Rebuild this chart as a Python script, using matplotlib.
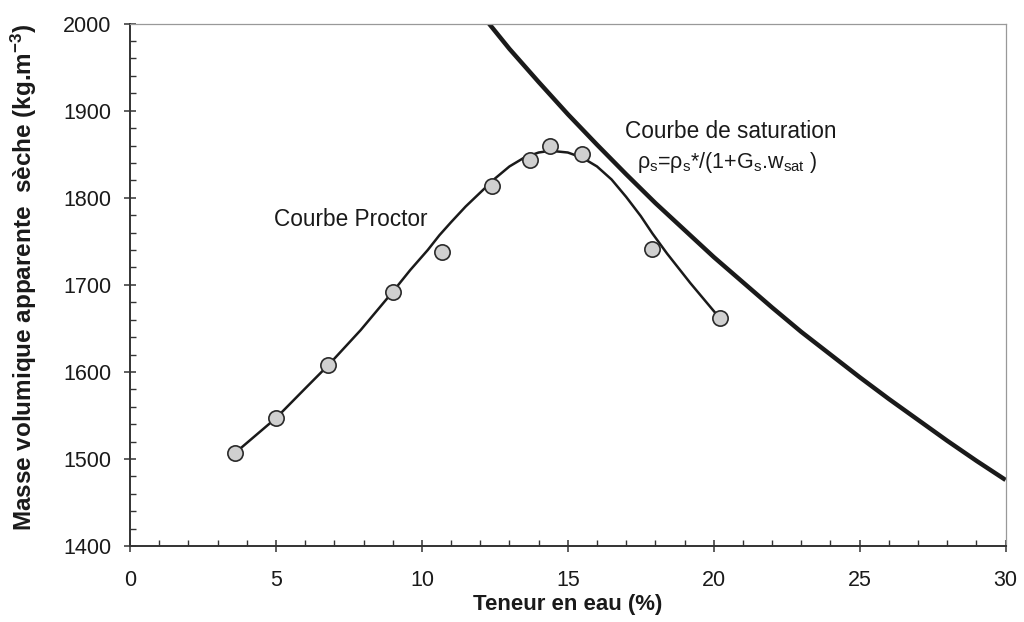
import numpy as np
import matplotlib.pyplot as plt
from matplotlib.ticker import MultipleLocator

plt.rcParams['font.family'] = ['Liberation Sans', 'DejaVu Sans']
plt.rcParams['mathtext.fontset'] = 'custom'
plt.rcParams['mathtext.rm'] = 'Liberation Sans'
plt.rcParams['mathtext.it'] = 'Liberation Sans'

# essais Proctor (teneur en eau %, masse volumique seche kg/m3)
w_essai = [3.6, 5.0, 6.8, 9.0, 10.7, 12.4, 13.7, 14.4, 15.5, 17.9, 20.2]
rho_essai = [1507, 1547, 1608, 1692, 1738, 1814, 1843, 1859, 1850, 1741, 1662]

# courbe Proctor lissee
w_proctor = [3.6, 5.0, 6.0, 6.8, 7.9, 9.0, 9.6, 10.2, 10.6, 11.0, 11.5, 12.0, 12.5, 13.0,
             13.5, 14.0, 14.4, 15.0, 15.5, 16.0, 16.5, 17.0, 17.5, 17.9, 18.4,
             19.2, 20.2]
rho_proctor = [1507, 1547, 1581, 1608, 1648, 1692, 1717, 1740, 1757, 1772, 1790, 1806, 1822,
               1836, 1846, 1852, 1854, 1852, 1846, 1836, 1821, 1801, 1779, 1759,
               1736, 1702, 1662]

# courbe de saturation
w_sat = [12.3, 13, 14, 15, 16, 17, 18, 19, 20, 21, 22, 23, 24, 25, 26, 27, 28, 29, 30]
rho_sat = [2000, 1971, 1933, 1896, 1861, 1827, 1794, 1763, 1732, 1703, 1674,
           1646, 1620, 1594, 1569, 1545, 1521, 1498, 1476]

fig = plt.figure(figsize=(10.24, 6.22), dpi=100)
ax = fig.add_axes([0.127, 0.122, 0.855, 0.840])

ax.plot(w_sat, rho_sat, color='#1a1a1a', lw=3.2, solid_capstyle='butt', solid_joinstyle='round')
ax.plot(w_proctor, rho_proctor, color='#1a1a1a', lw=1.8, solid_joinstyle='round')
ax.plot(w_essai, rho_essai, 'o', ms=11, mfc='#d0d0d0', mec='#2a2a2a', mew=1.2, zorder=3)

ax.set_xlim(0, 30)
ax.set_ylim(1400, 2000)
ax.xaxis.set_major_locator(MultipleLocator(5))
ax.xaxis.set_minor_locator(MultipleLocator(1))
ax.yaxis.set_major_locator(MultipleLocator(100))
ax.yaxis.set_minor_locator(MultipleLocator(20))

ax.tick_params(which='major', direction='inout', length=9, width=1.1, color='#333333',
               labelsize=15.5, labelcolor='#1a1a1a')
ax.tick_params(axis='x', which='major', pad=13)
ax.tick_params(axis='y', which='major', pad=9)
ax.tick_params(which='minor', direction='in', length=4, width=1.0, color='#333333')

for s in ['left', 'bottom']:
    ax.spines[s].set_color('#333333')
    ax.spines[s].set_linewidth(1.4)
for s in ['top', 'right']:
    ax.spines[s].set_color('#999999')
    ax.spines[s].set_linewidth(0.9)

ax.set_xlabel('Teneur en eau (%)', fontsize=16, fontweight='bold', labelpad=2, color='#1a1a1a')
ax.set_ylabel(r'Masse volumique apparente  sèche (kg.m$^{\mathregular{-3}}$)',
              fontsize=17.5, fontweight='bold', color='#1a1a1a')
ax.yaxis.set_label_coords(-0.104, 0.515)

ax.text(7.57, 1775, 'Courbe Proctor', fontsize=16.3, color='#1a1a1a', ha='center', va='center')
ax.text(20.58, 1876, 'Courbe de saturation', fontsize=16.3, color='#1a1a1a', ha='center', va='center')
ax.text(20.45, 1840, r'$\rho_{\mathregular{s}}$=$\rho_{\mathregular{s}}$*/(1+G$_{\mathregular{s}}$.w$_{\mathregular{sat}}$ )',
        fontsize=15.5, color='#1a1a1a', ha='center', va='center')

fig.savefig('out.png', dpi=100)
